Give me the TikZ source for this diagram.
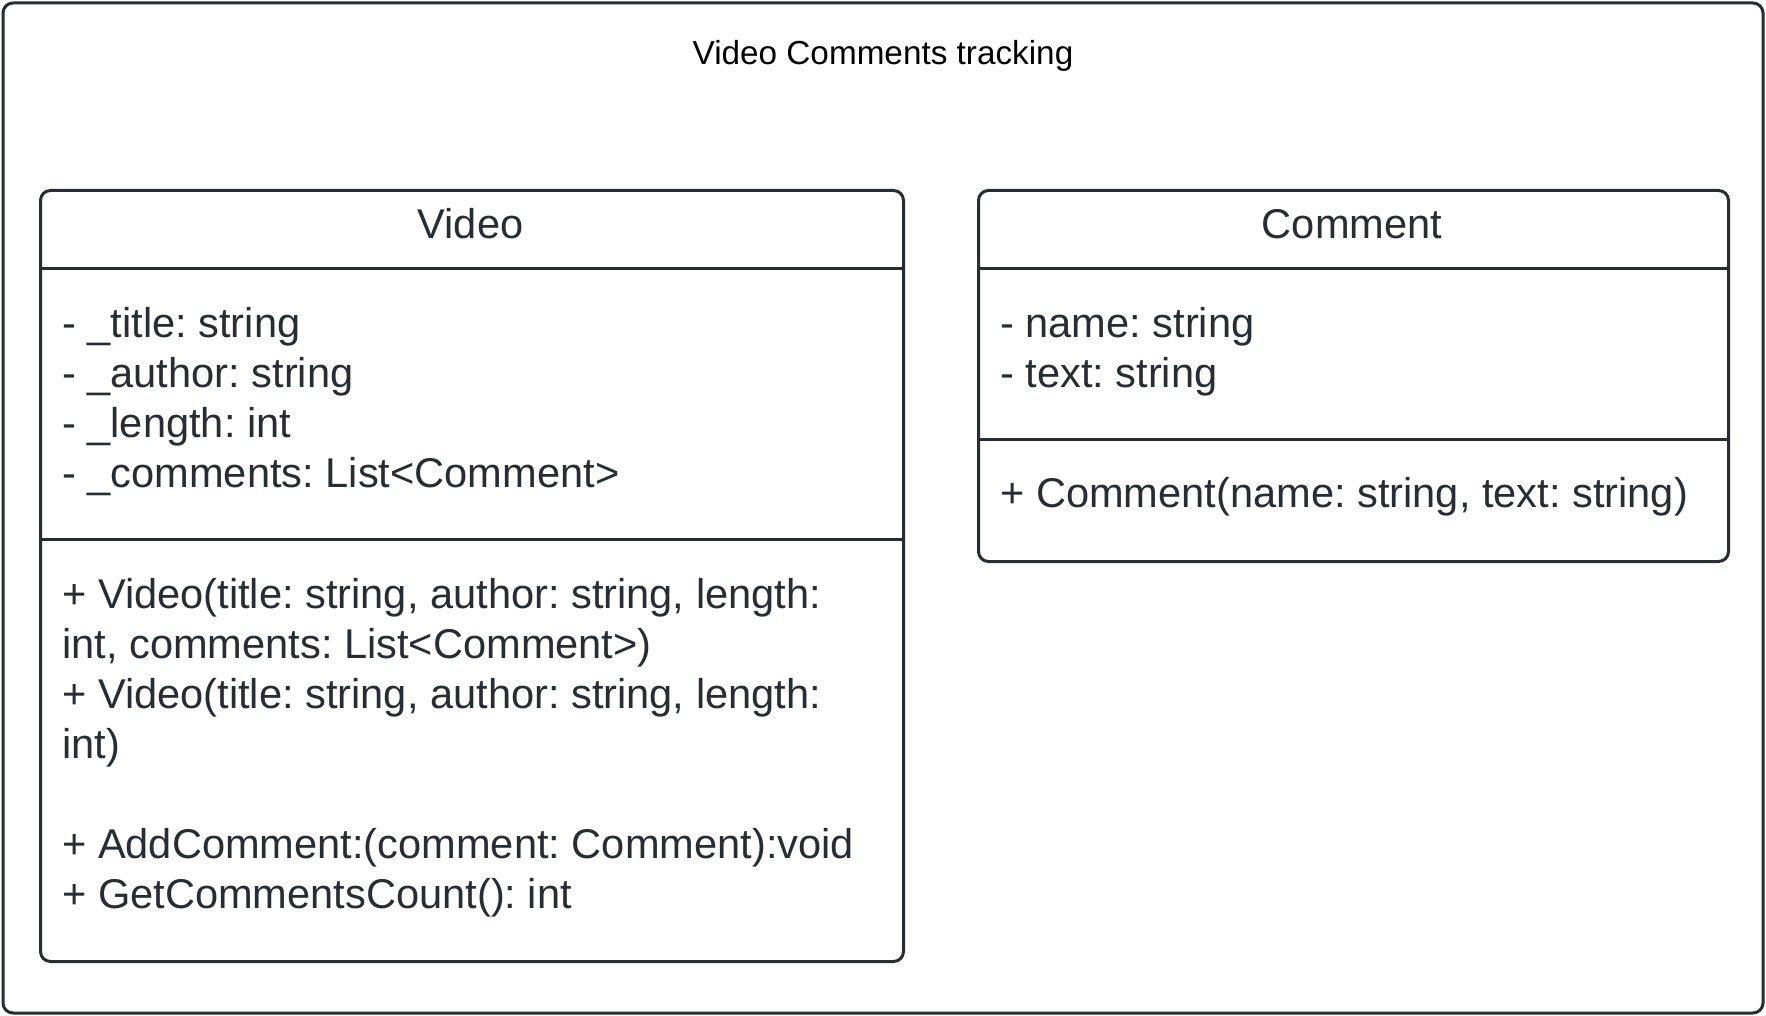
\documentclass[tikz,border=0pt]{standalone}
\usepackage{fontspec}
\setmainfont{Liberation Sans}
\frenchspacing
\definecolor{ink}{RGB}{40,44,51}
\tikzset{
  frame/.style={draw=ink, line width=3pt, rounded corners=10pt},
  classbox/.style={draw=ink, line width=3pt, rounded corners=10pt, fill=white, inner sep=0pt, anchor=north west},
  divider/.style={draw=ink, line width=3pt},
  txt/.style={inner sep=0pt, anchor=base west, text=ink, font=\fontsize{41.6}{50}\selectfont},
  head/.style={inner sep=0pt, anchor=base, text=ink, font=\fontsize{41.6}{50}\selectfont},
  ttl/.style={inner sep=0pt, anchor=base, text=black, font=\fontsize{33.3}{40}\selectfont}
}
\begin{document}
\begin{tikzpicture}[x=1pt,y=-1pt]
\useasboundingbox (0,0) rectangle (1766,1016);
\fill[white] (0,0) rectangle (1766,1016);
\draw[frame] (3,3) rectangle (1763,1013);
\node[ttl] (title) at (883,65) {Video Comments tracking};

% Video class
\node[classbox, minimum width=863pt, minimum height=771pt] (video) at (39,189) {};
\draw[divider] (video.north west |- 0,269) -- (video.north east |- 0,269);
\draw[divider] (video.north west |- 0,539) -- (video.north east |- 0,539);
\node[head] (vhead) at (470.5,239) {Video};
\node[txt] (va1) at (62,337) {- \_title: string};
\node[txt] (va2) at (62,387) {- \_author: string};
\node[txt] (va3) at (62,437) {- \_length: int};
\node[txt] (va4) at (62,487) {- \_comments: List<Comment>};
\node[txt] (vm1) at (62,608) {+ Video(title: string, author: string, length:};
\node[txt] (vm2) at (62,658) {int, comments: List<Comment>)};
\node[txt] (vm3) at (62,708) {+ Video(title: string, author: string, length:};
\node[txt] (vm4) at (62,758) {int)};
\node[txt] (vm5) at (62,858) {+ AddComment:(comment: Comment):void};
\node[txt] (vm6) at (62,908) {+ GetCommentsCount(): int};

% Comment class
\node[classbox, minimum width=750pt, minimum height=371pt] (comment) at (977,189) {};
\draw[divider] (comment.north west |- 0,269) -- (comment.north east |- 0,269);
\draw[divider] (comment.north west |- 0,439) -- (comment.north east |- 0,439);
\node[head] (chead) at (1352,239) {Comment};
\node[txt] (ca1) at (1000,337) {- name: string};
\node[txt] (ca2) at (1000,387) {- text: string};
\node[txt] (cm1) at (1000,507) {+ Comment(name: string, text: string)};
\end{tikzpicture}
\end{document}
